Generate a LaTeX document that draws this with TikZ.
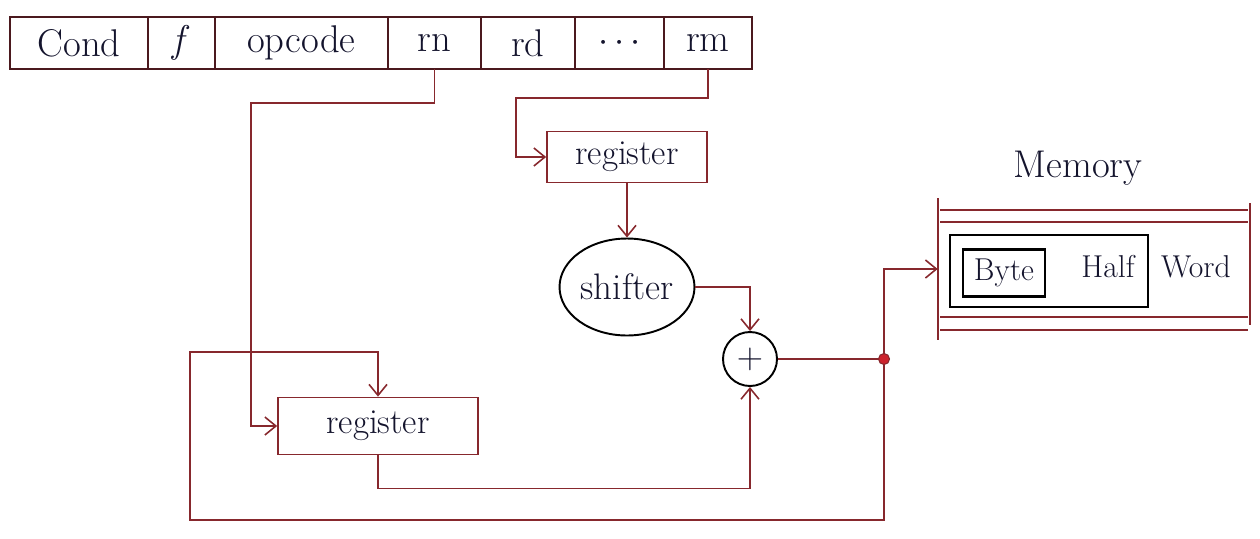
\documentclass[tikz,border=0pt]{standalone}
\usetikzlibrary{arrows.meta,shapes.geometric}
\definecolor{wire}{RGB}{135,40,45}
\definecolor{ink}{RGB}{20,20,45}
\definecolor{dotred}{RGB}{205,35,45}
\definecolor{barline}{RGB}{75,25,30}
\begin{document}
\begin{tikzpicture}[x=0.02cm,y=-0.02cm,
  wirestyle/.style={draw=wire, line width=0.9pt},
  arr/.style={wirestyle, -{Straight Barb[length=2.2mm,width=3.6mm]}},
  field/.style={draw=barline, line width=1.1pt, minimum height=1.04cm, inner sep=0pt,
    outer sep=0pt, anchor=west, text=ink, font=\fontsize{22}{24}\selectfont},
  regbox/.style={draw=wire, line width=1pt, rectangle, inner sep=0pt, text=ink,
    font=\fontsize{20}{22}\selectfont},
  inkshape/.style={draw=black, line width=1.1pt, inner sep=0pt, text=ink},
  memline/.style={draw=wire, line width=0.9pt},
  junction/.style={circle, fill=dotred, draw=wire, line width=0.6pt, inner sep=0pt, minimum size=0.22cm},
  lbl/.style={text=ink, inner sep=0pt, font=\fontsize{18}{20}\selectfont}
]
\useasboundingbox (0,0) rectangle (1260,538);

% instruction format bar
\node[field, minimum width=2.76cm] (cond) at (10,43) {Cond};
\node[field, minimum width=1.34cm] (f) at (cond.east) {\textit{f}};
\node[field, minimum width=3.46cm] (opcode) at (f.east) {opcode};
\node[field, minimum width=1.86cm] (rn) at (opcode.east) {rn};
\node[field, minimum width=1.88cm] (rd) at (rn.east) {rd};
\node[field, minimum width=1.78cm] (dots) at (rd.east) {$\cdots$};
\node[field, minimum width=1.76cm] (rm) at (dots.east) {rm};

% registers, shifter, adder
\node[regbox, minimum width=3.2cm, minimum height=1.02cm] (reg1) at (627,157) {register};
\node[inkshape, ellipse, minimum width=2.7cm, minimum height=1.94cm,
  font=\fontsize{21}{23}\selectfont] (shifter) at (627,287) {shifter};
\node[inkshape, circle, minimum size=1.08cm, font=\fontsize{22}{24}\selectfont] (plus) at (750,359) {$+$};
\node[regbox, minimum width=4cm, minimum height=1.14cm] (reg2) at (378,426) {register};

% memory
\node[lbl, font=\fontsize{22}{24}\selectfont] (memlabel) at (1078,168) {Memory};
\node[inner sep=0pt, minimum width=6.24cm, minimum height=2.84cm] (mem) at (1094,269) {};
\draw[memline] (938,198) -- (938,340);
\draw[memline] (1250,203) -- (1250,325);
\draw[memline] (940,210) -- (1248,210);
\draw[memline] (940,222) -- (1248,222);
\draw[memline] (940,317) -- (1248,317);
\draw[memline] (940,330) -- (1248,330);
\node[inkshape, rectangle, minimum width=3.96cm, minimum height=1.44cm] (half) at (1049,271) {};
\node[inkshape, rectangle, line width=1.6pt, minimum width=1.64cm, minimum height=0.94cm] (byte) at (1004,273) {};
\node[lbl] (bytetext) at (byte.center) {Byte};
\node[lbl] (halftext) at (1108,267) {Half};
\node[lbl] (wordtext) at (1196,267) {Word};

% connectors
\coordinate (j) at (884,359);
\draw[arr] (rn.south) |- (251,103) |- (reg2.west);
\draw[arr] (rm.south) |- (516,98) |- (reg1.west);
\draw[arr] (reg1.south) -- (shifter.north);
\draw[arr] (shifter.east) -| (plus.north);
\draw[arr] (reg2.south) -- ++(0,33) -| (plus.south);
\draw[wirestyle] (plus.east) -- (j);
\draw[arr] (j) |- (mem.west);
\draw[arr] (j) |- (190,520) -- (190,352) -| (reg2.north);
\node[junction] (dot) at (j) {};
\end{tikzpicture}
\end{document}
